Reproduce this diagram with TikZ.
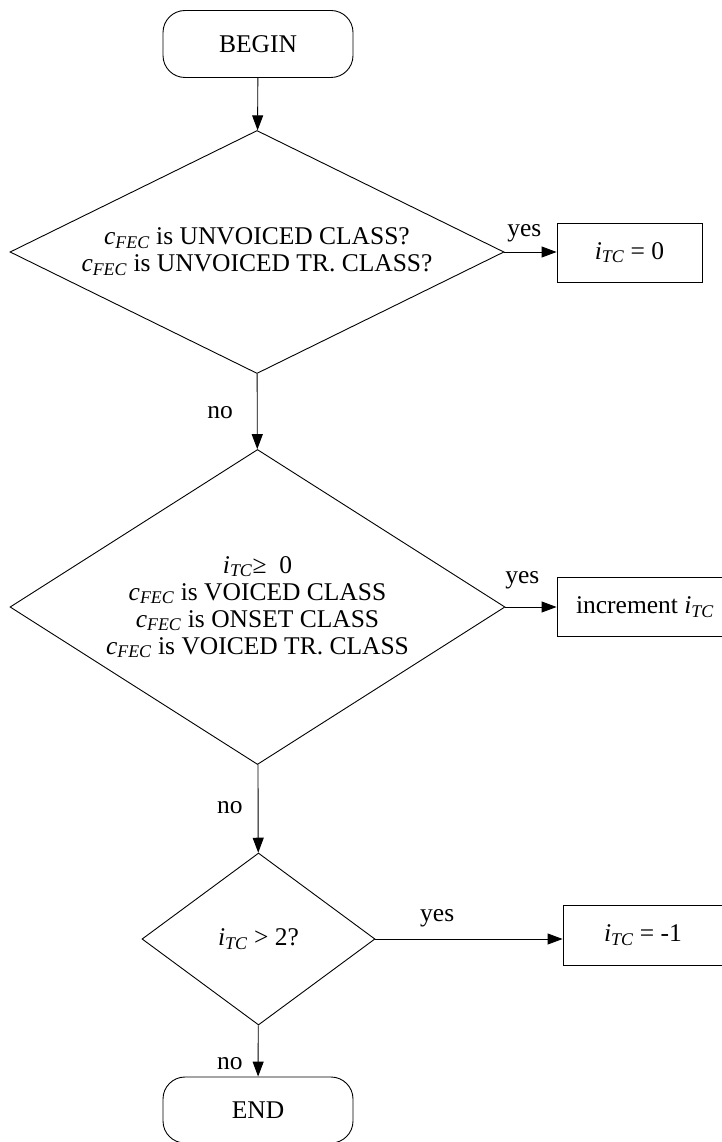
\documentclass[tikz,border=0pt]{standalone}
\usepackage{fontspec}
\setmainfont{Liberation Serif}
\usetikzlibrary{shapes.geometric,arrows.meta}
\newcommand{\cfec}{\textit{c}\textsubscript{\textit{FEC}}}
\newcommand{\itc}{\textit{i}\textsubscript{\textit{TC}}}
\begin{document}
\begin{tikzpicture}[x=1pt,y=-1pt,line width=0.9pt,
  font=\fontsize{25.5}{27}\selectfont,
  terminal/.style={draw, rounded corners=22pt, minimum width=190pt, minimum height=67pt, inner sep=0pt},
  decision/.style={draw, diamond, inner sep=0pt, align=center},
  action/.style={draw, minimum height=59pt, inner sep=0pt},
  flow/.style={-{Triangle[length=15pt,width=11pt]}}]
\useasboundingbox (0,0) rectangle (722,1142);
\node (begin) at (258,44) [terminal] {BEGIN};
\node (d1) at (257,252) [decision, minimum width=494pt, minimum height=243pt, shape aspect=2.03] {\cfec{} is UNVOICED CLASS?\\ \cfec{} is UNVOICED TR. CLASS?};
\node (b1) at (629.5,252.5) [action, minimum width=145pt] {\itc{} = 0};
\node (d2) at (257.5,607) [decision, minimum width=495pt, minimum height=315pt, shape aspect=1.57] {\itc{}≥~~0\\ \cfec{} is VOICED CLASS\\ \cfec{} is ONSET CLASS\\ \cfec{} is VOICED TR. CLASS};
\node (b2) at (645,607) [action, minimum width=176pt] {increment \itc};
\node (d3) at (258.5,939) [decision, minimum width=233pt, minimum height=172pt, shape aspect=1.35] {\itc{} > 2?};
\node (b3) at (643,935) [action, minimum width=160pt, minimum height=60pt] {\itc{} = -1};
\node (end) at (258,1110) [terminal, minimum height=66pt] {END};
% connectors
\draw[flow] (begin) -- (d1);
\draw[flow] (d1.east) -- node[pos=0.38, above, inner sep=10pt] {yes} (d1.east -| b1.west);
\draw[flow] (d1) -- node[pos=0.52, left, inner sep=24pt] {no} (d2);
\draw[flow] (d2.east) -- node[pos=0.33, above, inner sep=18pt] {yes} (d2.east -| b2.west);
\draw[flow] (d2) -- node[pos=0.49, left, inner sep=15pt] {no} (d3);
\draw[flow] (d3.east) -- node[pos=0.33, above, inner sep=12pt] {yes} (d3.east -| b3.west);
\draw[flow] (d3) -- node[pos=0.75, left, inner sep=15pt] {no} (end);
\end{tikzpicture}
\end{document}
